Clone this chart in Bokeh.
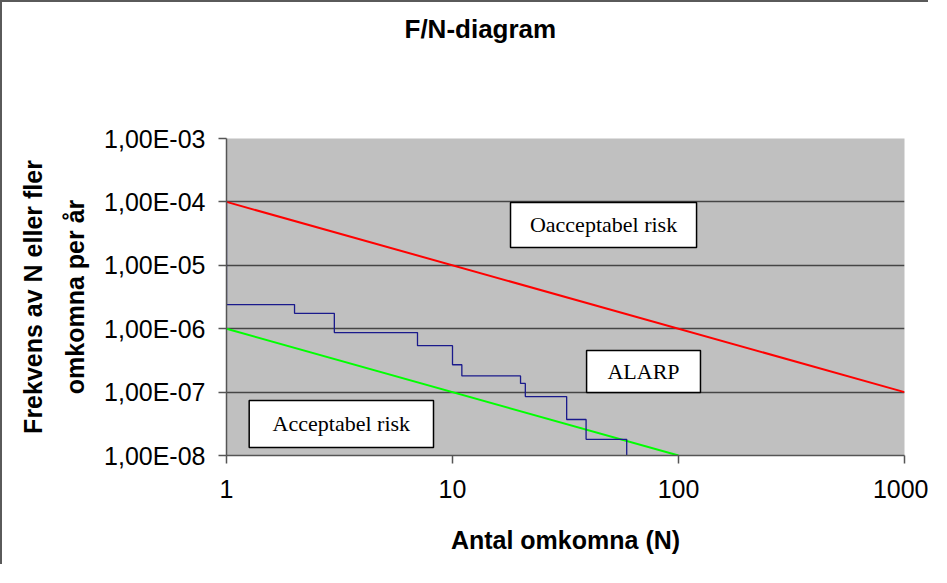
import math
from bokeh.plotting import figure
from bokeh.models import (Range1d, FixedTicker, CustomJSTickFormatter, Label,
                          BoxAnnotation, Title)
from bokeh.embed import file_html
from bokeh.resources import INLINE

# ---------------- data ----------------
title_text = "F/N-diagram"
x_title = "Antal omkomna (N)"
y_title = "Frekvens av N eller fler\nomkomna per år"

x_ticks = [1, 10, 100, 1000]
x_tick_labels = ["1", "10", "100", "1000"]
y_ticks = [1e-8, 1e-7, 1e-6, 1e-5, 1e-4, 1e-3]
y_tick_labels = ["1,00E-08", "1,00E-07", "1,00E-06", "1,00E-05", "1,00E-04", "1,00E-03"]

# criterion lines
upper_n = [1, 1000]
upper_f = [1e-4, 1e-7]
lower_n = [1, 100]
lower_f = [1e-6, 1e-8]

# F/N curve (step, value held until next N)
fn_n = [1, 1, 2, 3, 7, 10, 11, 20, 21, 32, 39, 59]
fn_f = [1e-4, 2.4e-6, 1.75e-6, 8.7e-7, 5.4e-7, 2.7e-7, 1.8e-7, 1.37e-7,
        8.5e-8, 3.7e-8, 1.8e-8, 1e-8]

# zone labels and their boxes (left N, right N, top F, bottom F)
zone_texts = ["Oacceptabel risk", "ALARP", "Acceptabel risk"]
zone_boxes = [(18.06, 120.2, 9.79e-5, 1.91e-5),
              (39.2, 125.1, 4.53e-7, 9.86e-8),
              (1.26, 8.24, 7.36e-8, 1.34e-8)]

# ---------------- figure ----------------
W, H = 928, 564
p = figure(width=W, height=H, x_axis_type="log", y_axis_type="log",
           x_range=Range1d(1, 1000), y_range=Range1d(1e-8, 1e-3),
           output_backend="svg", toolbar_location=None,
           min_border_left=224, min_border_top=136,
           min_border_right=W - 902, min_border_bottom=H - 453)
p.styles = {"border-top": "2px solid #5a5a5a", "border-left": "2px solid #5a5a5a"}
p.background_fill_color = "#C0C0C0"
p.border_fill_color = "white"
p.outline_line_color = None

sans = "Liberation Sans"

# chart title (placed in the top border area, lifted by an empty spacer title)
p.title.text = title_text
p.title.align = "left"
p.title.offset = 178
p.title.vertical_align = "top"
p.title.standoff = 22
p.title.text_font = sans
p.title.text_font_size = "26px"
p.title.text_font_style = "bold"
p.title.text_color = "black"
spacer = Title(text=" ", text_font=sans, text_font_size="26px", standoff=50)
p.above = [spacer] + list(p.above)

fmt_code = """
    for (let i = 0; i < tvals.length; i++) {
        if (Math.abs(Math.log10(tick) - Math.log10(tvals[i])) < 1e-6) return tlabels[i];
    }
    return "";
"""
p.xaxis.ticker = FixedTicker(ticks=x_ticks, minor_ticks=[])
p.yaxis.ticker = FixedTicker(ticks=y_ticks, minor_ticks=[])
p.xaxis.formatter = CustomJSTickFormatter(
    args=dict(tvals=x_ticks, tlabels=x_tick_labels), code=fmt_code)
p.yaxis.formatter = CustomJSTickFormatter(
    args=dict(tvals=y_ticks, tlabels=y_tick_labels), code=fmt_code)

for ax in (p.xaxis, p.yaxis):
    ax.axis_line_color = "#555555"
    ax.axis_line_width = 1.5
    ax.major_tick_line_color = "#555555"
    ax.major_tick_line_width = 1.5
    ax.major_tick_out = 8
    ax.major_tick_in = 0
    ax.minor_tick_line_color = None
    ax.major_label_text_font = sans
    ax.major_label_text_font_size = "25px"
    ax.major_label_text_color = "black"
    ax.axis_label_text_font = sans
    ax.axis_label_text_font_size = "25px"
    ax.axis_label_text_font_style = "bold"
    ax.axis_label_text_color = "black"

p.xaxis.axis_label = x_title
p.yaxis.axis_label = y_title
p.xaxis.major_label_standoff = 16
p.yaxis.major_label_standoff = 13
p.xaxis.axis_label_standoff = 25
p.yaxis.axis_label_standoff = 12
p.yaxis.axis_label_text_line_height = 1.5

p.xgrid.grid_line_color = None
p.ygrid.grid_line_color = "#454545"
p.ygrid.grid_line_width = 1.5

# lines
p.line(upper_n, upper_f, line_color="#FF0000", line_width=2)
p.line(lower_n, lower_f, line_color="#00FF00", line_width=2)
p.step(fn_n, fn_f, mode="after", line_color="#1a1a8c", line_width=1.3)

# zone boxes + texts
for txt, (l, r, t, b) in zip(zone_texts, zone_boxes):
    p.add_layout(BoxAnnotation(left=l, right=r, top=t, bottom=b,
                               fill_color="white", fill_alpha=1.0,
                               line_color="black", line_width=1.5, line_alpha=1.0))
    p.add_layout(Label(x=math.sqrt(l * r), y=math.sqrt(t * b), text=txt,
                       text_align="center", text_baseline="middle",
                       text_font="Liberation Serif", text_font_size="22px",
                       text_color="black"))

open("out.html", "w").write(file_html(p, INLINE))
